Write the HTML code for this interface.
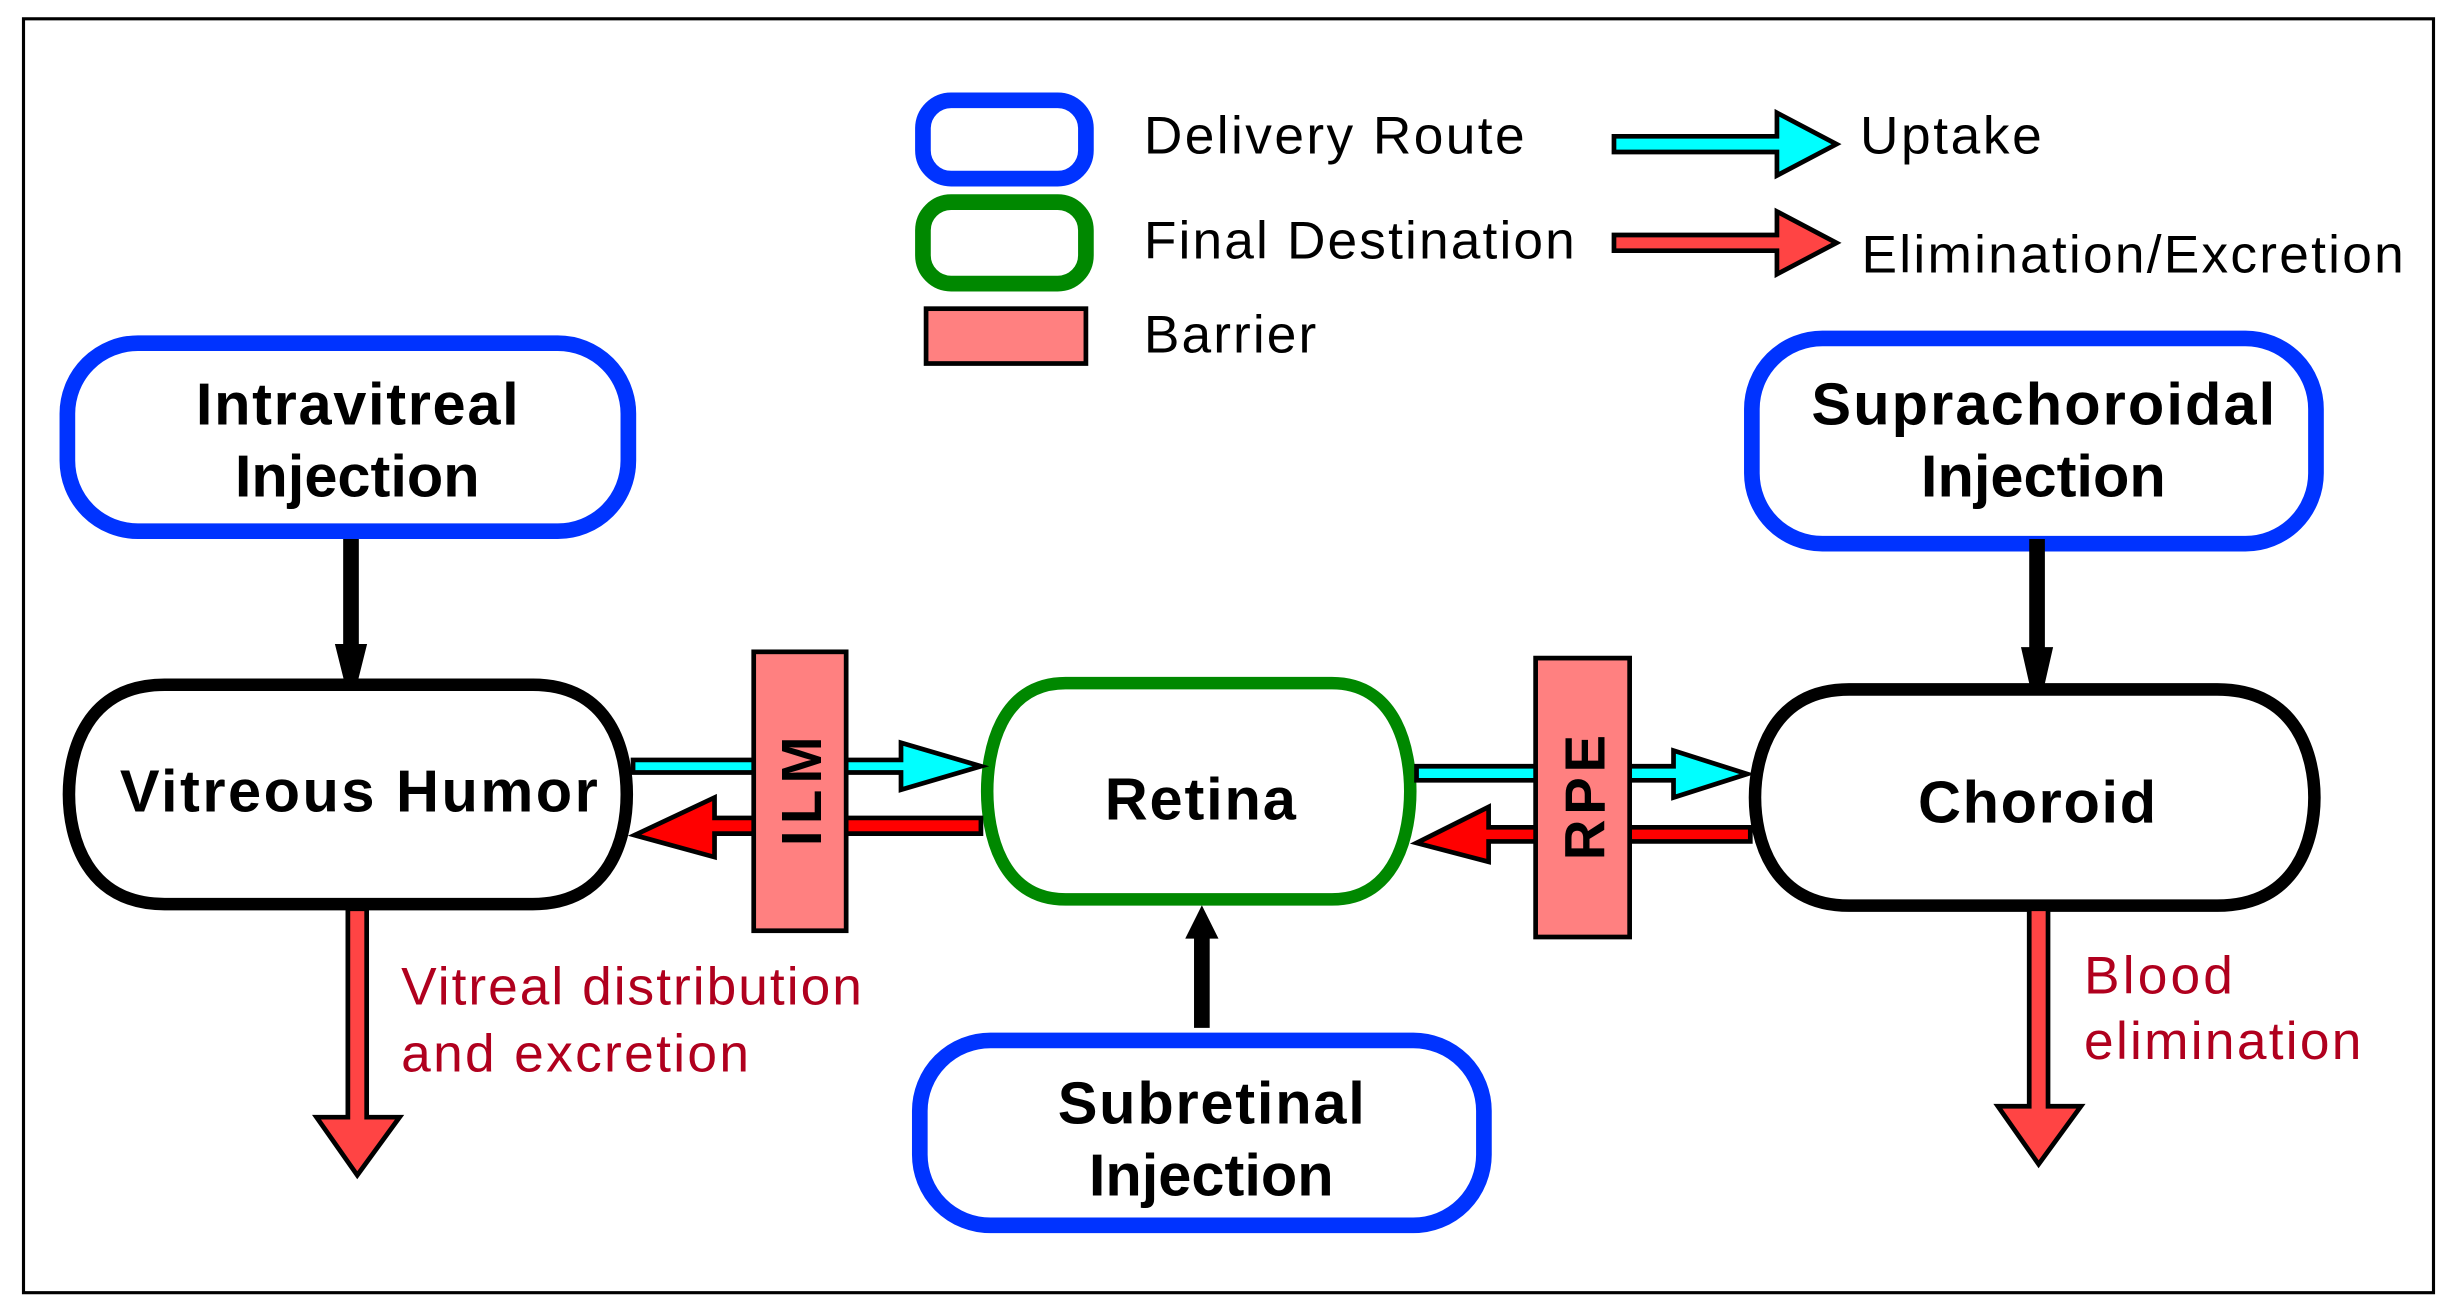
<!DOCTYPE html>
<html><head><meta charset="utf-8"><style>
html,body{margin:0;padding:0;background:#fff;}
svg{display:block;}
text{font-family:"Liberation Sans",Arial,sans-serif;}
.b{font-weight:bold;font-size:38px;text-anchor:middle;}
.l{font-size:34px;}
.r{font-size:34px;fill:#b0001e;}
</style></head><body>
<svg width="2457" height="1314" viewBox="0 0 1568 838.6" preserveAspectRatio="none" xmlns="http://www.w3.org/2000/svg">
<rect x="15" y="12" width="1538" height="813" fill="#fff" stroke="#000" stroke-width="2"/>
<!-- legend -->
<rect x="589" y="64" width="104" height="50" rx="18" fill="#fff" stroke="#0033ff" stroke-width="10"/>
<rect x="589" y="129" width="104" height="52" rx="18" fill="#fff" stroke="#008800" stroke-width="10"/>
<rect x="591" y="197" width="102" height="35" fill="#ff8080" stroke="#000" stroke-width="3"/>
<text class="l" x="730" y="98" textLength="243">Delivery Route</text>
<text class="l" x="730" y="165" textLength="275">Final Destination</text>
<text class="l" x="730" y="225" textLength="110">Barrier</text>
<path d="M1030,87 H1134 V72 L1172,92 L1134,112 V97 H1030Z" fill="#00ffff" stroke="#000" stroke-width="3"/>
<path d="M1030,150 H1134 V135 L1172,155 L1134,175 V160 H1030Z" fill="#ff4444" stroke="#000" stroke-width="3"/>
<text class="l" x="1187" y="98" textLength="116">Uptake</text>
<text class="l" x="1188" y="174" textLength="346">Elimination/Excretion</text>
<!-- delivery boxes -->
<rect x="43" y="219" width="358" height="120" rx="45" fill="#fff" stroke="#0033ff" stroke-width="10"/>
<text class="b" x="228" y="271" textLength="206">Intravitreal</text>
<text class="b" x="228" y="317">Injection</text>
<rect x="1118" y="216" width="360" height="131" rx="45" fill="#fff" stroke="#0033ff" stroke-width="10"/>
<text class="b" x="1304" y="271" textLength="296">Suprachoroidal</text>
<text class="b" x="1304" y="317">Injection</text>
<rect x="587" y="664" width="360" height="118" rx="45" fill="#fff" stroke="#0033ff" stroke-width="10"/>
<text class="b" x="773" y="717" textLength="196">Subretinal</text>
<text class="b" x="773" y="763">Injection</text>
<!-- black arrows -->
<path d="M220,345 H228 V412 H233 L228,432 H220 L215,412 H220Z" fill="#000" stroke="#000" stroke-width="2"/>
<path d="M1296,345 H1304 V414 H1309 L1304,436 H1296 L1291,414 H1296Z" fill="#000" stroke="#000" stroke-width="2"/>
<path d="M763,655 H771 V598 H776 L767,580 L758,598 H763Z" fill="#000" stroke="#000" stroke-width="2"/>
<!-- main nodes -->
<path d="M105,437 H340 C390,437 400,480 400,507 C400,534 390,577 340,577 H105 C55,577 44,534 44,507 C44,480 55,437 105,437Z" fill="#fff" stroke="#000" stroke-width="8"/>
<text class="b" x="229" y="518" textLength="305">Vitreous Humor</text>
<path d="M680,436 H850 C892,436 900,480 900,505 C900,530 892,574 850,574 H680 C638,574 630,530 630,505 C630,480 638,436 680,436Z" fill="#fff" stroke="#008800" stroke-width="8"/>
<text class="b" x="766" y="523" textLength="122">Retina</text>
<path d="M1180,440 H1415 C1467,440 1477,484 1477,509 C1477,534 1467,578 1415,578 H1180 C1130,578 1120,534 1120,509 C1120,484 1130,440 1180,440Z" fill="#fff" stroke="#000" stroke-width="8"/>
<text class="b" x="1300" y="525" textLength="152">Choroid</text>
<!-- horizontal arrows -->
<path d="M404,485 H575 V474 L626,489 L575,504 V493 H404Z" fill="#00ffff" stroke="#000" stroke-width="3"/>
<path d="M626,522 H456 V509 L405,533 L456,547 V532 H626Z" fill="#ff0000" stroke="#000" stroke-width="3"/>
<path d="M904,489 H1068 V479 L1115,494 L1068,509 V498 H904Z" fill="#00ffff" stroke="#000" stroke-width="3"/>
<path d="M1117,528 H950 V515 L904,538 L950,550 V537 H1117Z" fill="#ff0000" stroke="#000" stroke-width="3"/>
<!-- barriers -->
<rect x="481" y="416" width="59" height="178" fill="#ff8080" stroke="#000" stroke-width="3"/>
<text class="b" transform="translate(524,505) rotate(-90)" style="font-size:36px" textLength="70">ILM</text>
<rect x="980" y="420" width="60" height="178" fill="#ff8080" stroke="#000" stroke-width="3"/>
<text class="b" transform="translate(1024,509) rotate(-90)" style="font-size:36px" textLength="80">RPE</text>
<!-- red down arrows -->
<path d="M222,580 H234 V713 H255 L228,750 L202,713 H222Z" fill="#ff4444" stroke="#000" stroke-width="3"/>
<path d="M1295,580 H1307 V706 H1328 L1301,743 L1275,706 H1295Z" fill="#ff4444" stroke="#000" stroke-width="3"/>
<text class="r" x="256" y="641" textLength="294">Vitreal distribution</text>
<text class="r" x="256" y="684" textLength="222">and excretion</text>
<text class="r" x="1330" y="634" textLength="95">Blood</text>
<text class="r" x="1330" y="676" textLength="177">elimination</text>
</svg>
</body></html>
